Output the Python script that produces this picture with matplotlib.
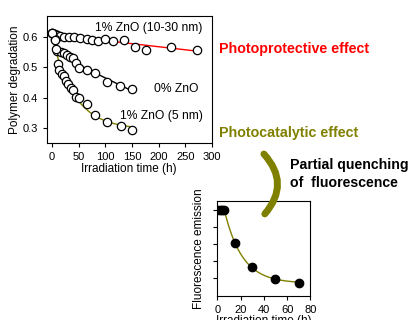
import numpy as np
import matplotlib
matplotlib.use("Agg")
import matplotlib.pyplot as plt
from matplotlib.patches import FancyArrowPatch

plt.rcParams['font.family'] = ['Liberation Sans', 'DejaVu Sans']

# polymer degradation vs irradiation time (h)
t_big = [0, 5, 10, 15, 22, 31, 41, 53, 66, 75, 87, 100, 115, 136, 156, 176, 224, 272]
v_big = [0.613, 0.610, 0.608, 0.605, 0.602, 0.602, 0.600, 0.597, 0.594, 0.591, 0.589,
         0.595, 0.589, 0.591, 0.569, 0.558, 0.569, 0.558]

t_zero = [0, 5, 10, 16, 22, 28, 34, 40, 45, 50, 66, 80, 104, 128, 151]
v_zero = [0.613, 0.595, 0.555, 0.552, 0.547, 0.540, 0.535, 0.530, 0.513, 0.497, 0.491,
          0.483, 0.453, 0.439, 0.430]

t_small = [0, 5, 8, 11, 14, 18, 22, 26, 30, 35, 40, 45, 51, 66, 80, 104, 129, 151]
v_small = [0.613, 0.590, 0.560, 0.512, 0.492, 0.478, 0.470, 0.455, 0.445, 0.432, 0.424,
           0.403, 0.398, 0.380, 0.343, 0.318, 0.305, 0.293]

# inset: fluorescence emission (a.u.)
t_fl = [0, 2, 4, 6, 15, 30, 50, 70]
v_fl = [1.0, 1.0, 1.0, 1.0, 0.61, 0.337, 0.191, 0.151]

OLIVE = '#808000'


def exp_fit(t, v, t_eval, linear=False, t0=0.0):
    t = np.asarray(t, float) - t0
    v = np.asarray(v, float)
    best = None
    for tau in np.linspace(2, 200, 400):
        cols = [np.ones_like(t), np.exp(-t / tau)]
        if linear:
            cols.append(t)
        A = np.column_stack(cols)
        coef, *_ = np.linalg.lstsq(A, v, rcond=None)
        err = np.sum((A @ coef - v) ** 2)
        if best is None or err < best[0]:
            best = (err, tau, coef)
    _, tau, coef = best
    te = np.asarray(t_eval) - t0
    out = coef[0] + coef[1] * np.exp(-te / tau)
    if linear:
        out = out + coef[2] * te
    return out


fig = plt.figure(figsize=(4.13, 3.2), dpi=100)

ax = fig.add_axes([0.113, 0.553, 0.400, 0.397])
mk = dict(marker='o', ms=6, mfc='white', mec='black', mew=0.9, ls='none', zorder=3)

tt = np.linspace(0, 275, 200)
p = np.polyfit(t_big, v_big, 1)
ax.plot(tt, np.polyval(p, tt), color='red', lw=1)
ax.plot(t_big, v_big, **mk)

tt = np.linspace(0, 152, 200)
ax.plot(tt, exp_fit(t_zero, v_zero, tt, linear=True), color='black', lw=1)
ax.plot(t_zero, v_zero, **mk)

ax.plot(tt, exp_fit(t_small, v_small, tt), color=OLIVE, lw=1)
ax.plot(t_small, v_small, **mk)

ax.set_xlim(-10, 300)
ax.set_ylim(0.25, 0.67)
ax.set_xticks([0, 50, 100, 150, 200, 250, 300])
ax.set_yticks([0.3, 0.4, 0.5, 0.6])
ax.tick_params(labelsize=8, length=3, width=0.8, direction='out')
ax.set_xlabel('Irradiation time (h)', fontsize=8.5, labelpad=1)
ax.set_ylabel('Polymer degradation', fontsize=8.5, labelpad=1)
for s in ax.spines.values():
    s.set_linewidth(0.8)

ax.text(81, 0.63, '1% ZnO (10-30 nm)', fontsize=8.7, va='center')
ax.text(192, 0.430, '0% ZnO', fontsize=8.7, va='center')
ax.text(128, 0.341, '1% ZnO (5 nm)', fontsize=8.7, va='center')

fig.text(219 / 413, 1 - 49 / 320, 'Photoprotective effect', color='red',
         fontsize=10.3, fontweight='bold', va='center')
fig.text(219 / 413, 1 - 133 / 320, 'Photocatalytic effect', color=OLIVE,
         fontsize=10.3, fontweight='bold', va='center')
fig.text(290 / 413, 1 - 165 / 320, 'Partial quenching', color='black',
         fontsize=10.2, fontweight='bold', va='center')
fig.text(290 / 413, 1 - 183 / 320, 'of  fluorescence', color='black',
         fontsize=10.2, fontweight='bold', va='center')

arrow = FancyArrowPatch((262 / 413, 1 - 152 / 320), (263 / 413, 1 - 216 / 320),
                        transform=fig.transFigure, connectionstyle='arc3,rad=-0.47',
                        arrowstyle='-', color=OLIVE, lw=5, capstyle='round')
fig.add_artist(arrow)

# inset
ax2 = fig.add_axes([0.526, 0.076, 0.2257, 0.296])
tt = np.linspace(6, 70, 200)
ax2.plot([0, 6], [1.0, 1.0], color=OLIVE, lw=1, zorder=2)
ax2.plot(tt, exp_fit(t_fl[3:], v_fl[3:], tt, t0=6), color=OLIVE, lw=1, zorder=2)
ax2.plot(t_fl, v_fl, marker='o', ms=6, mfc='black', mec='black', ls='none', zorder=3)
ax2.set_xlim(0, 80)
ax2.set_ylim(0, 1.1)
ax2.set_xticks([0, 20, 40, 60, 80])
ax2.set_yticks([0.2, 0.4, 0.6, 0.8, 1.0])
ax2.set_yticklabels([])
ax2.tick_params(labelsize=8, length=3, width=0.8, direction='out')
ax2.set_xlabel('Irradiation time (h)', fontsize=8.5, labelpad=0)
ax2.set_ylabel('Fluorescence emission', fontsize=8.5, labelpad=2)
for s in ax2.spines.values():
    s.set_linewidth(0.8)

fig.savefig('out.png', dpi=100)
